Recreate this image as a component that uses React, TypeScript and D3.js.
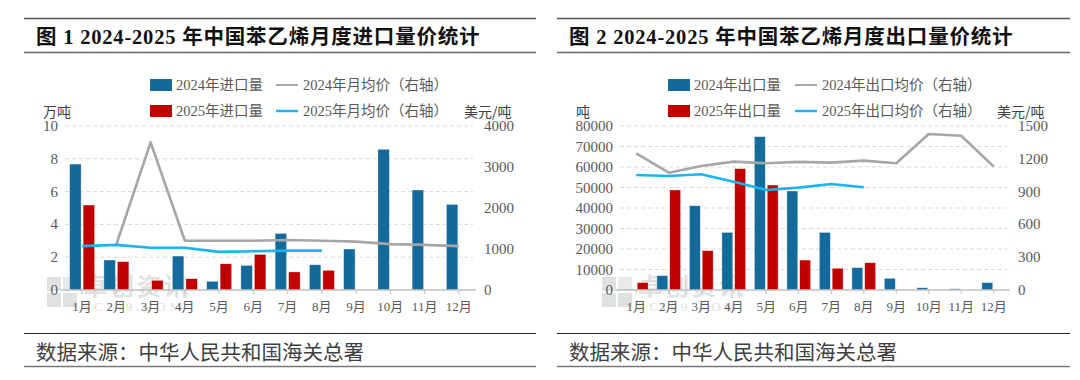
import React from 'react';
import * as d3 from 'd3';

// ---------- data ----------
const months = ['1月', '2月', '3月', '4月', '5月', '6月', '7月', '8月', '9月', '10月', '11月', '12月'];

// Figure 1: imports (万吨) and average price (美元/吨)
const import2024: (number | null)[] = [7.68, 1.83, null, 2.07, 0.53, 1.5, 3.45, 1.54, 2.5, 8.58, 6.1, 5.22];
const import2025: (number | null)[] = [5.18, 1.73, 0.59, 0.69, 1.6, 2.17, 1.1, 1.2];
const importPrice2024: (number | null)[] = [null, 1110, 3600, 1200, 1200, 1200, 1220, 1200, 1180, 1120, 1100, 1070];
const importPrice2025: (number | null)[] = [1070, 1100, 1030, 1030, 930, 945, 960, 960];
const importLeftTicks = [0, 2, 4, 6, 8, 10];
const importRightTicks = [0, 1000, 2000, 3000, 4000];

// Figure 2: exports (吨) and average price (美元/吨)
const export2024: (number | null)[] = [400, 7000, 41100, 28100, 74800, 48300, 28100, 10900, 5700, 1100, 600, 3600];
const export2025: (number | null)[] = [3600, 48800, 19200, 59200, 51200, 14600, 10600, 13300];
const exportPrice2024: (number | null)[] = [1250, 1073, 1134, 1174, 1159, 1172, 1165, 1183, 1159, 1427, 1411, 1128];
const exportPrice2025: (number | null)[] = [1052, 1043, 1058, 991, 915, 936, 970, 940];
const exportLeftTicks = [0, 10000, 20000, 30000, 40000, 50000, 60000, 70000, 80000];
const exportRightTicks = [0, 300, 600, 900, 1200, 1500];

const sourceText = '数据来源：中华人民共和国海关总署';

// ---------- style ----------
const BLUE = '#156a9c';
const RED = '#c00000';
const GRAY_LINE = '#a6a6a6';
const CYAN = '#19b4f0';
const AXIS_TEXT = '#595959';
const SERIF = '"Liberation Serif", "Noto Sans CJK SC", serif';
const CJK = '"Noto Sans CJK SC", "Liberation Serif", sans-serif';

interface PanelCfg {
  x0: number;
  x1: number;
  title: string;
  titleX: number;
  plotL: number;
  plotR: number;
  bars24: (number | null)[];
  bars25: (number | null)[];
  price24: (number | null)[];
  price25: (number | null)[];
  leftTicks: number[];
  rightTicks: number[];
  leftUnit: string;
  leftUnitX: number;
  rightUnitX: number;
  legendSwatchX: number;
  legendLineX: number;
  labels: string[];
}

const TOP = 126;
const BASE = 290;

function Panel({ c }: { c: PanelCfg }) {
  const x = d3.scaleBand<string>().domain(months).range([c.plotL, c.plotR]).paddingInner(0.27).paddingOuter(0.135);
  const inner = d3.scaleBand<string>().domain(['a', 'b']).range([0, x.bandwidth()]).paddingInner(0.15);
  const yL = d3.scaleLinear().domain([0, c.leftTicks[c.leftTicks.length - 1]]).range([BASE, TOP]);
  const yR = d3.scaleLinear().domain([0, c.rightTicks[c.rightTicks.length - 1]]).range([BASE, TOP]);
  const cx = (i: number) => (x(months[i]) as number) + x.bandwidth() / 2;

  const line = d3
    .line<number | null>()
    .defined((d) => d != null)
    .x((_, i) => cx(i))
    .y((d) => yR(d as number));

  const bars = (vals: (number | null)[], key: 'a' | 'b', color: string) =>
    vals.map((v, i) =>
      v == null ? null : (
        <rect
          key={key + i}
          x={(x(months[i]) as number) + (inner(key) as number)}
          y={yL(v)}
          width={inner.bandwidth()}
          height={BASE - yL(v)}
          fill={color}
          stroke="#ffffff"
          strokeOpacity={0.6}
          strokeWidth={0.6}
        />
      )
    );

  const legendY1 = 85;
  const legendY2 = 111;
  const wmX = c.plotL - 18;

  return (
    <g>
      {/* header rules and title */}
      <line x1={c.x0} x2={c.x1} y1={18.5} y2={18.5} stroke="#555" strokeWidth={1.6} />
      <text x={c.titleX} y={36.5} dominantBaseline="central" fontFamily={SERIF} fontWeight={700} fontSize={20.5} letterSpacing={0.8} fill="#111">
        {c.title}
      </text>
      <line x1={c.x0} x2={c.x1} y1={52.5} y2={52.5} stroke="#666" strokeWidth={1.6} />

      {/* legend */}
      <rect x={c.legendSwatchX} y={legendY1 - 6} width={22} height={12} fill={BLUE} />
      <text x={c.legendSwatchX + 26} y={legendY1} dominantBaseline="central" fontFamily={SERIF} fontSize={14.5} fill={AXIS_TEXT}>
        {c.labels[0]}
      </text>
      <rect x={c.legendSwatchX} y={legendY2 - 6} width={22} height={12} fill={RED} />
      <text x={c.legendSwatchX + 26} y={legendY2} dominantBaseline="central" fontFamily={SERIF} fontSize={14.5} fill={AXIS_TEXT}>
        {c.labels[1]}
      </text>
      <line x1={c.legendLineX} x2={c.legendLineX + 22} y1={legendY1} y2={legendY1} stroke={GRAY_LINE} strokeWidth={2} />
      <text x={c.legendLineX + 27} y={legendY1} dominantBaseline="central" fontFamily={SERIF} fontSize={14.5} fill={AXIS_TEXT}>
        {c.labels[2]}
      </text>
      <line x1={c.legendLineX} x2={c.legendLineX + 22} y1={legendY2} y2={legendY2} stroke={CYAN} strokeWidth={2.5} />
      <text x={c.legendLineX + 27} y={legendY2} dominantBaseline="central" fontFamily={SERIF} fontSize={14.5} fill={AXIS_TEXT}>
        {c.labels[3]}
      </text>

      {/* unit labels */}
      <text x={c.leftUnitX} y={legendY2} dominantBaseline="central" fontFamily={CJK} fontSize={14} fill="#404040">
        {c.leftUnit}
      </text>
      <text x={c.rightUnitX} y={legendY2} dominantBaseline="central" fontFamily={CJK} fontSize={14} fill="#404040">
        美元/吨
      </text>

      {/* gridlines */}
      {c.leftTicks
        .filter((t) => t !== 0)
        .map((t) => (
          <line key={'g' + t} x1={c.plotL} x2={c.plotR - 3} y1={yL(t)} y2={yL(t)} stroke="#d9d9d9" strokeWidth={1} strokeDasharray="4,3" />
        ))}

      {/* watermark */}
      <g opacity={0.55}>
        <rect x={wmX} y={277} width={14} height={14} fill="#c8c8c8" />
        <rect x={wmX + 16} y={277} width={14} height={14} fill="#d8d8d8" />
        <rect x={wmX} y={293} width={14} height={14} fill="#c8c8c8" />
        <rect x={wmX + 16} y={293} width={14} height={14} fill="#c8c8c8" />
        <text x={wmX + 36} y={295} fontFamily={CJK} fontWeight={700} fontSize={24} fill="#c8c8c8" letterSpacing={3}>
          卓创资讯
        </text>
        <text x={wmX + 36} y={311} fontFamily={SERIF} fontSize={13} fill="#c8c8c8" letterSpacing={4}>
          SCI99.COM
        </text>
      </g>

      {/* axes labels */}
      {c.leftTicks.map((t) => (
        <text key={'l' + t} x={c.plotL - 7} y={yL(t)} textAnchor="end" dominantBaseline="central" fontFamily={SERIF} fontSize={15} fill={AXIS_TEXT}>
          {t}
        </text>
      ))}
      {c.rightTicks.map((t) => (
        <text key={'r' + t} x={c.plotR + 8} y={yR(t)} dominantBaseline="central" fontFamily={SERIF} fontSize={15} fill={AXIS_TEXT}>
          {t}
        </text>
      ))}

      {/* bars */}
      {bars(c.bars24, 'a', BLUE)}
      {bars(c.bars25, 'b', RED)}

      {/* price lines */}
      <path d={line(c.price24) || ''} fill="none" stroke={GRAY_LINE} strokeWidth={2.6} strokeLinejoin="round" />
      <path d={line(c.price25) || ''} fill="none" stroke={CYAN} strokeWidth={2.6} strokeLinejoin="round" />

      {/* baseline & ticks */}
      <line x1={c.plotL - 4} x2={c.plotR} y1={BASE} y2={BASE} stroke="#bfbfbf" strokeWidth={1.5} />
      {months.map((m, i) => (
        <g key={m}>
          <line x1={cx(i)} x2={cx(i)} y1={BASE} y2={BASE + 4} stroke="#bfbfbf" strokeWidth={1} />
          <text x={cx(i)} y={306} textAnchor="middle" dominantBaseline="central" fontFamily={SERIF} fontSize={13} fill={AXIS_TEXT}>
            {m}
          </text>
        </g>
      ))}

      {/* source */}
      <line x1={c.x0} x2={c.x1} y1={333.5} y2={333.5} stroke="#222" strokeWidth={1.2} />
      <text x={c.titleX} y={351} dominantBaseline="central" fontFamily={CJK} fontSize={20.5} fill="#404040">
        {sourceText}
      </text>
      <line x1={c.x0} x2={c.x1} y1={366.5} y2={366.5} stroke="#777" strokeWidth={1.6} />
    </g>
  );
}

const leftCfg: PanelCfg = {
  x0: 24,
  x1: 536,
  title: '图 1 2024-2025 年中国苯乙烯月度进口量价统计',
  titleX: 36,
  plotL: 65,
  plotR: 476,
  bars24: import2024,
  bars25: import2025,
  price24: importPrice2024,
  price25: importPrice2025,
  leftTicks: importLeftTicks,
  rightTicks: importRightTicks,
  leftUnit: '万吨',
  leftUnitX: 43,
  rightUnitX: 464,
  legendSwatchX: 150,
  legendLineX: 276,
  labels: ['2024年进口量', '2025年进口量', '2024年月均价（右轴）', '2025年月均价（右轴）'],
};

const rightCfg: PanelCfg = {
  x0: 557,
  x1: 1070,
  title: '图 2 2024-2025 年中国苯乙烯月度出口量价统计',
  titleX: 569,
  plotL: 620,
  plotR: 1010,
  bars24: export2024,
  bars25: export2025,
  price24: exportPrice2024,
  price25: exportPrice2025,
  leftTicks: exportLeftTicks,
  rightTicks: exportRightTicks,
  leftUnit: '吨',
  leftUnitX: 576,
  rightUnitX: 997,
  legendSwatchX: 668,
  legendLineX: 795,
  labels: ['2024年出口量', '2025年出口量', '2024年出口均价（右轴）', '2025年出口均价（右轴）'],
};

export default function App() {
  return (
    <svg
      width={1080}
      height={380}
      viewBox="0 0 1080 380"
      style={{ position: 'absolute', left: 0, top: 0, background: '#ffffff' }}
    >
      <rect width={1080} height={380} fill="#ffffff" />
      <Panel c={leftCfg} />
      <Panel c={rightCfg} />
    </svg>
  );
}
